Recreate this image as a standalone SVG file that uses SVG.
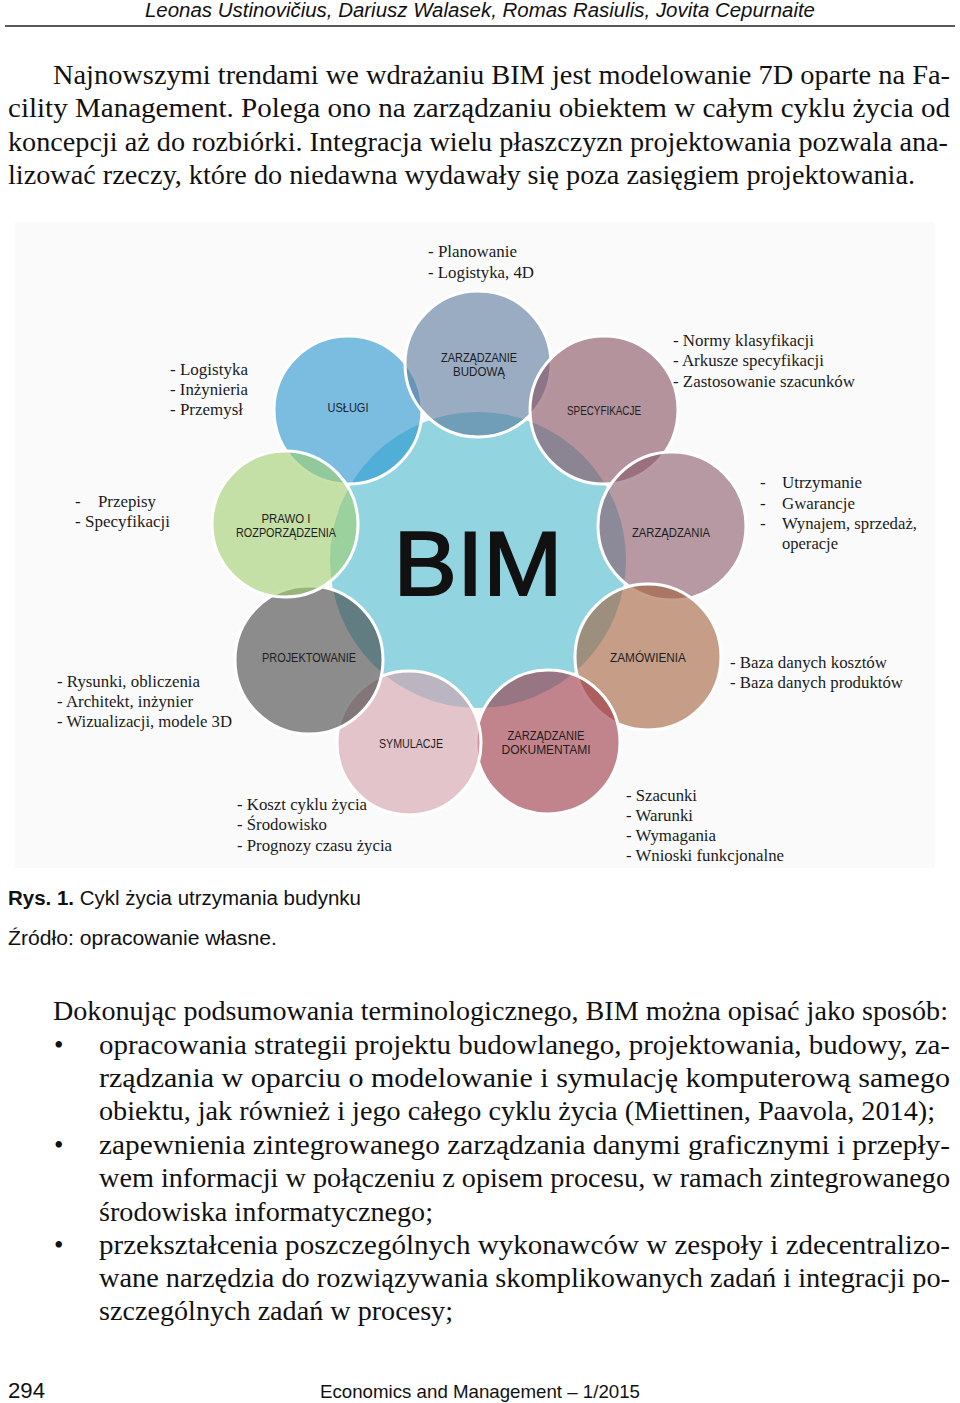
<svg xmlns="http://www.w3.org/2000/svg" width="960" height="1403" viewBox="0 0 960 1403">
<style>
.body{font-family:"Liberation Serif","Times New Roman",serif;font-size:27px;fill:#111}
.lbl{font-family:"Liberation Serif","Times New Roman",serif;font-size:17px;fill:#1a1a1a}
.cl{font-family:"Liberation Sans",Arial,sans-serif;font-size:12px;fill:#1e1e1e;text-anchor:middle}
.sans{font-family:"Liberation Sans",Arial,sans-serif;fill:#111}
.sat{stroke:#fff;stroke-width:3;fill-opacity:0.6}
</style>
<rect width="960" height="1403" fill="#fff"/>
<g id="header">
<text class="sans" x="145" y="17" font-size="20" font-style="italic" textLength="670" lengthAdjust="spacingAndGlyphs">Leonas Ustinovičius, Dariusz Walasek, Romas Rasiulis, Jovita Cepurnaite</text>
<line x1="5" y1="26" x2="955" y2="26" stroke="#222" stroke-width="1.5"/>
</g>
<g id="para1">
<text class="body" x="53" y="84" textLength="897" lengthAdjust="spacingAndGlyphs">Najnowszymi trendami we wdrażaniu BIM jest modelowanie 7D oparte na Fa-</text>
<text class="body" x="8" y="117" textLength="942" lengthAdjust="spacingAndGlyphs">cility Management. Polega ono na zarządzaniu obiektem w całym cyklu życia od</text>
<text class="body" x="8" y="151" textLength="940" lengthAdjust="spacingAndGlyphs">koncepcji aż do rozbiórki. Integracja wielu płaszczyzn projektowania pozwala ana-</text>
<text class="body" x="8" y="184" textLength="907" lengthAdjust="spacingAndGlyphs">lizować rzeczy, które do niedawna wydawały się poza zasięgiem projektowania.</text>
</g>
<rect id="diagram-bg" x="15" y="222" width="920" height="646" fill="#fafafa"/>
<g id="connectors"/>
<g id="node-bim">
<circle cx="478" cy="560" r="148" fill="#92d4e0"/>
</g>
<g id="node-uslugi"><circle class="sat" cx="348" cy="410" r="74" fill="#2694d0"/></g>
<g id="node-budowa"><circle class="sat" cx="478" cy="364" r="73" fill="#5a789d"/></g>
<g id="node-specyfikacje"><circle class="sat" cx="604" cy="410" r="74" fill="#854e5f"/></g>
<g id="node-zarzadzania"><circle class="sat" cx="672" cy="526" r="74" fill="#895867"/></g>
<g id="node-zamowienia"><circle class="sat" cx="648" cy="657" r="73" fill="#a3613c"/></g>
<g id="node-dokumentami"><circle class="sat" cx="548" cy="742" r="72" fill="#9b3543"/></g>
<g id="node-symulacje"><circle class="sat" cx="409" cy="743" r="72" fill="#d5a0ac"/></g>
<g id="node-projektowanie"><circle class="sat" cx="309" cy="660" r="74" fill="#434343"/></g>
<g id="node-prawo"><circle class="sat" cx="285" cy="524" r="73" fill="#a0cf6e"/></g>
<g id="circle-labels">
<text x="478" y="573" font-family="Liberation Sans,Arial,sans-serif" font-size="91" fill="#111" stroke="#111" stroke-width="2" text-anchor="middle" textLength="169" lengthAdjust="spacingAndGlyphs" dy="22">BIM</text>
<text class="cl" x="479" y="362" textLength="76" lengthAdjust="spacingAndGlyphs">ZARZĄDZANIE</text>
<text class="cl" x="479" y="376" textLength="52" lengthAdjust="spacingAndGlyphs">BUDOWĄ</text>
<text class="cl" x="348" y="412" textLength="41" lengthAdjust="spacingAndGlyphs">USŁUGI</text>
<text class="cl" x="604" y="415" textLength="74" lengthAdjust="spacingAndGlyphs">SPECYFIKACJE</text>
<text class="cl" x="286" y="523" textLength="49" lengthAdjust="spacingAndGlyphs">PRAWO I</text>
<text class="cl" x="286" y="537" textLength="100" lengthAdjust="spacingAndGlyphs">ROZPORZĄDZENIA</text>
<text class="cl" x="671" y="537" textLength="78" lengthAdjust="spacingAndGlyphs">ZARZĄDZANIA</text>
<text class="cl" x="309" y="662" textLength="94" lengthAdjust="spacingAndGlyphs">PROJEKTOWANIE</text>
<text class="cl" x="648" y="662" textLength="76" lengthAdjust="spacingAndGlyphs">ZAMÓWIENIA</text>
<text class="cl" x="411" y="748" textLength="64" lengthAdjust="spacingAndGlyphs">SYMULACJE</text>
<text class="cl" x="546" y="740" textLength="77" lengthAdjust="spacingAndGlyphs">ZARZĄDZANIE</text>
<text class="cl" x="546" y="754" textLength="89" lengthAdjust="spacingAndGlyphs">DOKUMENTAMI</text>
</g>
<g id="side-labels">
<text class="lbl" x="428" y="257" textLength="89" lengthAdjust="spacingAndGlyphs">- Planowanie</text>
<text class="lbl" x="428" y="278" textLength="106" lengthAdjust="spacingAndGlyphs">- Logistyka, 4D</text>
<text class="lbl" x="170" y="375" textLength="78" lengthAdjust="spacingAndGlyphs">- Logistyka</text>
<text class="lbl" x="170" y="395" textLength="78" lengthAdjust="spacingAndGlyphs">- Inżynieria</text>
<text class="lbl" x="170" y="415" textLength="73" lengthAdjust="spacingAndGlyphs">- Przemysł</text>
<text class="lbl" x="673" y="346" textLength="141" lengthAdjust="spacingAndGlyphs">- Normy klasyfikacji</text>
<text class="lbl" x="673" y="366" textLength="151" lengthAdjust="spacingAndGlyphs">- Arkusze specyfikacji</text>
<text class="lbl" x="673" y="387" textLength="182" lengthAdjust="spacingAndGlyphs">- Zastosowanie szacunków</text>
<text class="lbl" x="760" y="488">-</text>
<text class="lbl" x="782" y="488" textLength="80" lengthAdjust="spacingAndGlyphs">Utrzymanie</text>
<text class="lbl" x="760" y="509">-</text>
<text class="lbl" x="782" y="509" textLength="73" lengthAdjust="spacingAndGlyphs">Gwarancje</text>
<text class="lbl" x="760" y="529">-</text>
<text class="lbl" x="782" y="529" textLength="135" lengthAdjust="spacingAndGlyphs">Wynajem, sprzedaż,</text>
<text class="lbl" x="782" y="549" textLength="56" lengthAdjust="spacingAndGlyphs">operacje</text>
<text class="lbl" x="75" y="507">-</text>
<text class="lbl" x="98" y="507" textLength="58" lengthAdjust="spacingAndGlyphs">Przepisy</text>
<text class="lbl" x="75" y="527" textLength="95" lengthAdjust="spacingAndGlyphs">- Specyfikacji</text>
<text class="lbl" x="57" y="687" textLength="143" lengthAdjust="spacingAndGlyphs">- Rysunki, obliczenia</text>
<text class="lbl" x="57" y="707" textLength="136" lengthAdjust="spacingAndGlyphs">- Architekt, inżynier</text>
<text class="lbl" x="57" y="727" textLength="175" lengthAdjust="spacingAndGlyphs">- Wizualizacji, modele 3D</text>
<text class="lbl" x="730" y="668" textLength="157" lengthAdjust="spacingAndGlyphs">- Baza danych kosztów</text>
<text class="lbl" x="730" y="688" textLength="173" lengthAdjust="spacingAndGlyphs">- Baza danych produktów</text>
<text class="lbl" x="237" y="810" textLength="130" lengthAdjust="spacingAndGlyphs">- Koszt cyklu życia</text>
<text class="lbl" x="237" y="830" textLength="90" lengthAdjust="spacingAndGlyphs">- Środowisko</text>
<text class="lbl" x="237" y="851" textLength="155" lengthAdjust="spacingAndGlyphs">- Prognozy czasu życia</text>
<text class="lbl" x="626" y="801" textLength="71" lengthAdjust="spacingAndGlyphs">- Szacunki</text>
<text class="lbl" x="626" y="821" textLength="67" lengthAdjust="spacingAndGlyphs">- Warunki</text>
<text class="lbl" x="626" y="841" textLength="90" lengthAdjust="spacingAndGlyphs">- Wymagania</text>
<text class="lbl" x="626" y="861" textLength="158" lengthAdjust="spacingAndGlyphs">- Wnioski funkcjonalne</text>
</g>
<g id="caption">
<text class="sans" x="8" y="905" font-size="20" textLength="353" lengthAdjust="spacingAndGlyphs"><tspan font-weight="bold">Rys. 1.</tspan> Cykl życia utrzymania budynku</text>
<text class="sans" x="8" y="945" font-size="20" textLength="269" lengthAdjust="spacingAndGlyphs">Źródło: opracowanie własne.</text>
</g>
<g id="para2">
<text class="body" x="53" y="1020" textLength="895" lengthAdjust="spacingAndGlyphs">Dokonując podsumowania terminologicznego, BIM można opisać jako sposób:</text>
<text class="body" x="54" y="1054">•</text>
<text class="body" x="99" y="1054" textLength="851" lengthAdjust="spacingAndGlyphs">opracowania strategii projektu budowlanego, projektowania, budowy, za-</text>
<text class="body" x="99" y="1087" textLength="851" lengthAdjust="spacingAndGlyphs">rządzania w oparciu o modelowanie i symulację komputerową samego</text>
<text class="body" x="99" y="1120" textLength="836" lengthAdjust="spacingAndGlyphs">obiektu, jak również i jego całego cyklu życia (Miettinen, Paavola, 2014);</text>
<text class="body" x="54" y="1154">•</text>
<text class="body" x="99" y="1154" textLength="851" lengthAdjust="spacingAndGlyphs">zapewnienia zintegrowanego zarządzania danymi graficznymi i przepły-</text>
<text class="body" x="99" y="1187" textLength="851" lengthAdjust="spacingAndGlyphs">wem informacji w połączeniu z opisem procesu, w ramach zintegrowanego</text>
<text class="body" x="99" y="1221" textLength="334" lengthAdjust="spacingAndGlyphs">środowiska informatycznego;</text>
<text class="body" x="54" y="1254">•</text>
<text class="body" x="99" y="1254" textLength="851" lengthAdjust="spacingAndGlyphs">przekształcenia poszczególnych wykonawców w zespoły i zdecentralizo-</text>
<text class="body" x="99" y="1287" textLength="851" lengthAdjust="spacingAndGlyphs">wane narzędzia do rozwiązywania skomplikowanych zadań i integracji po-</text>
<text class="body" x="99" y="1320" textLength="354" lengthAdjust="spacingAndGlyphs">szczególnych zadań w procesy;</text>
</g>
<g id="footer">
<text class="sans" x="8" y="1398" font-size="22" textLength="37" lengthAdjust="spacingAndGlyphs">294</text>
<text class="sans" x="320" y="1398" font-size="19" textLength="320" lengthAdjust="spacingAndGlyphs">Economics and Management – 1/2015</text>
</g>
</svg>
